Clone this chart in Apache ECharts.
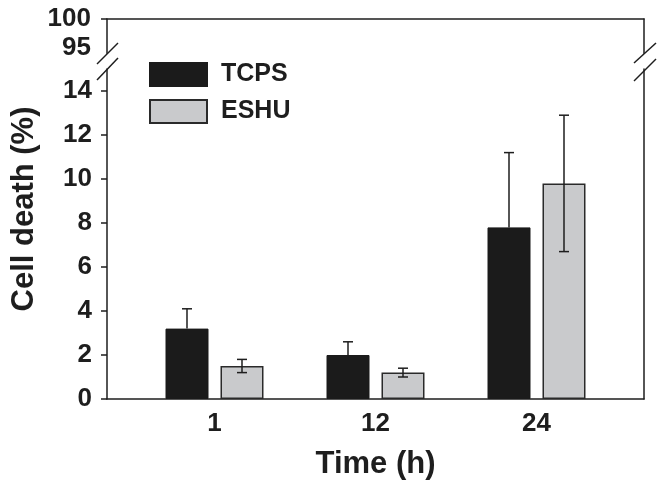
<!DOCTYPE html>
<html>
<head>
<meta charset="utf-8">
<script src="https://cdn.jsdelivr.net/npm/echarts@6/dist/echarts.min.js"></script>
<style>html,body{margin:0;padding:0;background:#fff}#c{width:664px;height:488px}</style>
</head>
<body>
<div id="c"></div>
<script>
const categories = ['1', '12', '24'];
const seriesNames = ['TCPS', 'ESHU'];
const tcps = [3.2, 2.0, 7.8];
const tcpsErr = [0.9, 0.6, 3.4];
const eshu = [1.5, 1.2, 9.8];
const eshuErr = [0.3, 0.2, 3.1];
const lowerTicks = [0, 2, 4, 6, 8, 10, 12, 14];
const upperTicks = [95, 100];

const FONT = 'Arial, "Liberation Sans", Helvetica, sans-serif';
const INK = '#1e1e1e';
const BAR_W = 43, BAR_GAP = 12;
const OFF = (BAR_W + BAR_GAP) / 2;

const chart = echarts.init(document.getElementById('c'));

function errSeries(name, vals, errs, sign, upOnly) {
  return {
    type: 'custom', name: name + ' err', xAxisIndex: 0, yAxisIndex: 0, z: 5,
    silent: true,
    data: vals.map((v, i) => [i, v, errs[i]]),
    renderItem: function (params, api) {
      const x = api.value(0), v = api.value(1), e = api.value(2);
      const top = api.coord([x, v + e]);
      const bot = api.coord([x, upOnly ? v : v - e]);
      const cx = top[0] + sign * OFF;
      const cap = 5;
      const st = { stroke: INK, lineWidth: 1.5 };
      const kids = [
        { type: 'line', shape: { x1: cx, y1: top[1], x2: cx, y2: bot[1] }, style: st },
        { type: 'line', shape: { x1: cx - cap, y1: top[1], x2: cx + cap, y2: top[1] }, style: st }
      ];
      if (!upOnly) kids.push({ type: 'line', shape: { x1: cx - cap, y1: bot[1], x2: cx + cap, y2: bot[1] }, style: st });
      return { type: 'group', children: kids };
    }
  };
}

const XMIN = -0.6677, XMAX = 2.6677;
const hiddenAxisBits = { axisLabel: { show: false }, axisTick: { show: false }, splitLine: { show: false } };
const lineStyle = { color: INK, width: 1.5 };

const option = {
  backgroundColor: '#fff',
  animation: false,
  textStyle: { fontFamily: FONT },
  grid: [
    { left: 107, right: 20, top: 69, height: 330 },
    { left: 107, right: 20, top: 19, height: 34.2 }
  ],
  xAxis: [
    {
      type: 'value', gridIndex: 0, min: XMIN, max: XMAX, position: 'bottom',
      axisLine: { show: true, onZero: false, lineStyle: lineStyle },
      axisTick: { show: false },
      splitLine: { show: false },
      axisLabel: {
        customValues: [0, 1, 2],
        formatter: v => categories[Math.round(v)],
        color: INK, fontWeight: 'bold', fontSize: 26, fontFamily: FONT, margin: 12
      },
      name: 'Time (h)', nameLocation: 'middle', nameGap: 50,
      nameTextStyle: { color: INK, fontWeight: 'bold', fontSize: 31, fontFamily: FONT }
    },
    Object.assign({
      type: 'value', gridIndex: 1, min: XMIN, max: XMAX, position: 'top',
      axisLine: { show: true, onZero: false, lineStyle: lineStyle }
    }, hiddenAxisBits)
  ],
  yAxis: [
    {
      type: 'value', gridIndex: 0, min: 0, max: 15, position: 'left',
      axisLine: { show: true, onZero: false, lineStyle: lineStyle },
      axisTick: { show: true, customValues: lowerTicks, length: 6, inside: false, lineStyle: lineStyle },
      splitLine: { show: false },
      axisLabel: {
        customValues: lowerTicks, color: INK, fontWeight: 'bold', fontSize: 26,
        fontFamily: FONT, margin: 15
      }
    },
    Object.assign({
      type: 'value', gridIndex: 0, min: 0, max: 15, position: 'right',
      axisLine: { show: true, onZero: false, lineStyle: lineStyle }
    }, hiddenAxisBits),
    {
      type: 'value', gridIndex: 1, min: 94, max: 100, position: 'left',
      axisLine: { show: true, onZero: false, lineStyle: lineStyle },
      axisTick: { show: true, customValues: [100], length: 6, lineStyle: lineStyle },
      splitLine: { show: false },
      axisLabel: {
        customValues: upperTicks, color: INK, fontWeight: 'bold', fontSize: 26,
        fontFamily: FONT, margin: 16
      }
    },
    Object.assign({
      type: 'value', gridIndex: 1, min: 94, max: 100, position: 'right',
      axisLine: { show: true, onZero: false, lineStyle: lineStyle }
    }, hiddenAxisBits)
  ],
  legend: {
    data: seriesNames, orient: 'vertical', left: 149, top: 62, padding: 0,
    itemWidth: 57, itemHeight: 23, itemGap: 12, icon: 'rect',
    textStyle: { color: INK, fontWeight: 'bold', fontSize: 25, fontFamily: FONT, padding: [0, 0, 0, 9] }
  },
  series: [
    {
      type: 'bar', name: seriesNames[0], xAxisIndex: 0, yAxisIndex: 0,
      data: tcps.map((v, i) => [i, v]),
      barWidth: BAR_W, barGap: (BAR_GAP / BAR_W * 100).toFixed(1) + '%',
      itemStyle: { color: '#1b1b1b', borderColor: '#1b1b1b', borderWidth: 1 }
    },
    {
      type: 'bar', name: seriesNames[1], xAxisIndex: 0, yAxisIndex: 0,
      data: eshu.map((v, i) => [i, v]),
      barWidth: BAR_W,
      itemStyle: { color: '#c9cacc', borderColor: '#2a2a2a', borderWidth: 1.5 }
    },
    errSeries(seriesNames[0], tcps, tcpsErr, -1, true),
    errSeries(seriesNames[1], eshu, eshuErr, 1, false)
  ],
  graphic: [
    { type: 'text', x: 24, y: 209, rotation: Math.PI / 2,
      style: { text: 'Cell death (%)', fill: INK, font: 'bold 31px ' + FONT, align: 'center', verticalAlign: 'middle' } },
    { type: 'line', shape: { x1: 97, y1: 64, x2: 118, y2: 43 }, style: { stroke: INK, lineWidth: 1.5 } },
    { type: 'line', shape: { x1: 97, y1: 80, x2: 118, y2: 58 }, style: { stroke: INK, lineWidth: 1.5 } },
    { type: 'line', shape: { x1: 634, y1: 63, x2: 656, y2: 43 }, style: { stroke: INK, lineWidth: 1.5 } },
    { type: 'line', shape: { x1: 634, y1: 81, x2: 656, y2: 59 }, style: { stroke: INK, lineWidth: 1.5 } }
  ]
};
chart.setOption(option);
</script>
</body>
</html>
